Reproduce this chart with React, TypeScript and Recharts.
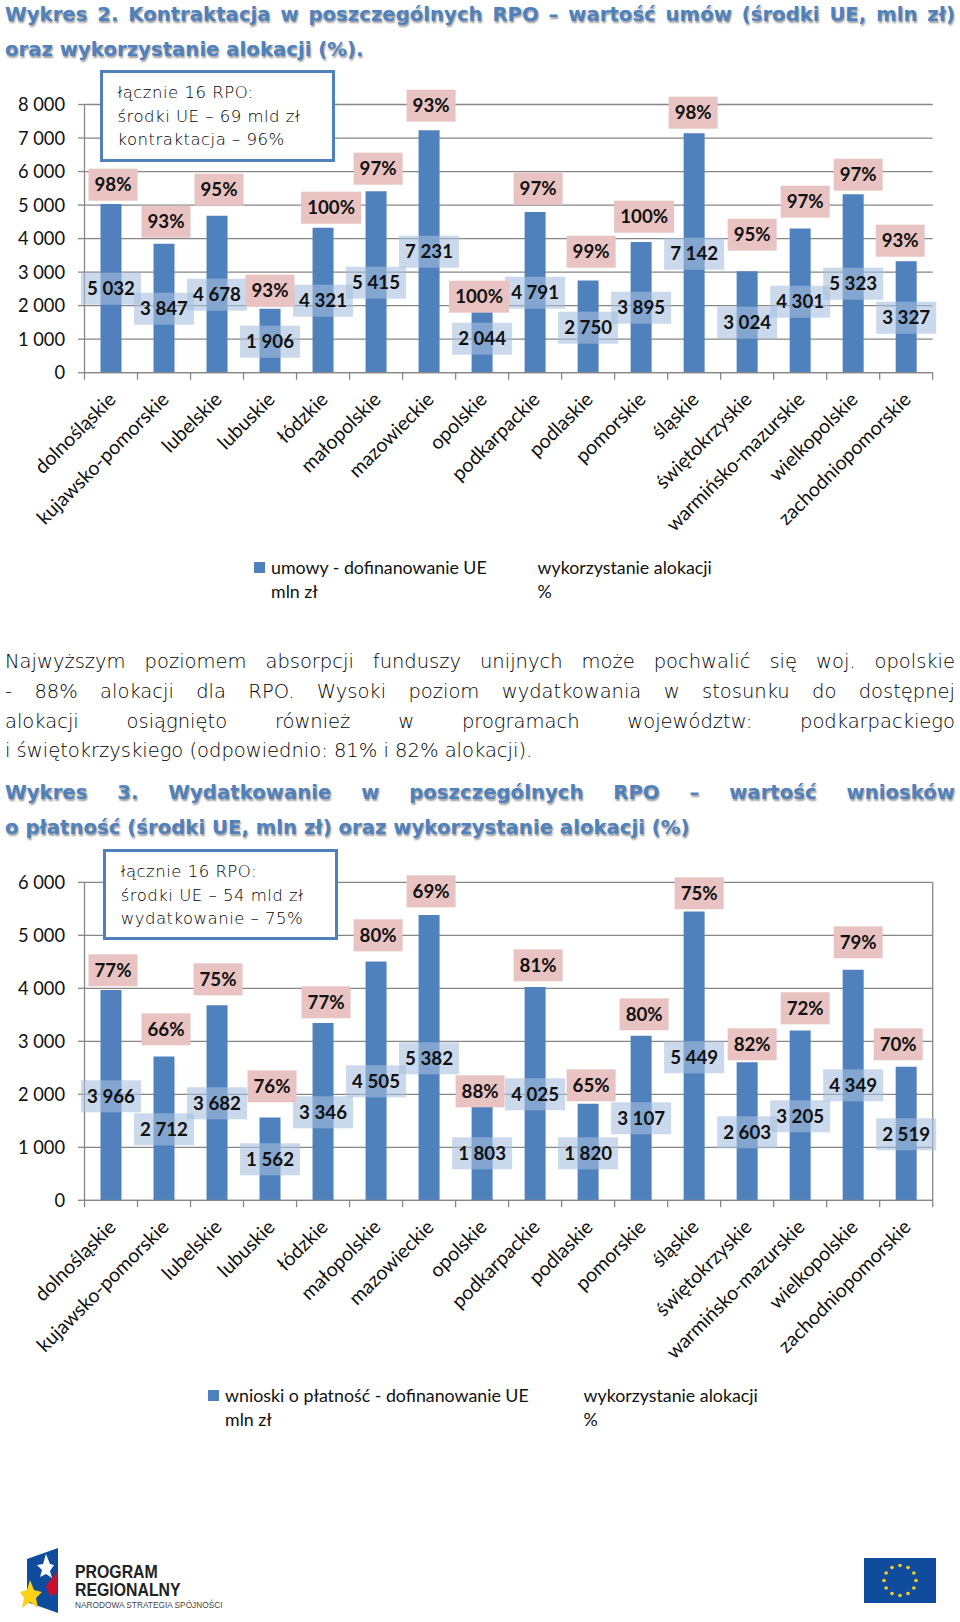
import React from "react";
import {
  BarChart,
  Bar,
  XAxis,
  YAxis,
  CartesianGrid,
  LabelList,
} from "recharts";

const regions = [
  "dolnośląskie",
  "kujawsko-pomorskie",
  "lubelskie",
  "lubuskie",
  "łódzkie",
  "małopolskie",
  "mazowieckie",
  "opolskie",
  "podkarpackie",
  "podlaskie",
  "pomorskie",
  "śląskie",
  "świętokrzyskie",
  "warmińsko-mazurskie",
  "wielkopolskie",
  "zachodniopomorskie",
];

const contractValues = [5032, 3847, 4678, 1906, 4321, 5415, 7231, 2044, 4791, 2750, 3895, 7142, 3024, 4301, 5323, 3327];
const contractPct = [98, 93, 95, 93, 100, 97, 93, 100, 97, 99, 100, 98, 95, 97, 97, 93];
const paymentValues = [3966, 2712, 3682, 1562, 3346, 4505, 5382, 1803, 4025, 1820, 3107, 5449, 2603, 3205, 4349, 2519];
const paymentPct = [77, 66, 75, 76, 77, 80, 69, 88, 81, 65, 80, 75, 82, 72, 79, 70];

const contractTicks = [0, 1000, 2000, 3000, 4000, 5000, 6000, 7000, 8000];
const paymentTicks = [0, 1000, 2000, 3000, 4000, 5000, 6000];

// label placement: height of the box centre above the axis, in px
const contractValueUp = [84, 64, 78, 31, 72, 90, 121, 34, 80, 45, 65, 119, 50, 71, 89, 55];
const contractPctUp = [188, 151, 183, 82, 165, 204, 267, 76, 184, 121, 156, 260, 138, 171, 198, 132];
const contractPctDx = [2, 2, 2, 0, 8, 2, 2, -3, 3, 3, 3, -1, 5, 5, 5, -6];
const paymentValueUp = [104, 71, 97, 41, 88, 119, 142, 47, 106, 47, 82, 143, 68, 84, 115, 66];
const paymentPctUp = [230, 171, 221, 114, 198, 265, 309, 109, 235, 115, 186, 307, 156, 192, 258, 156];
const paymentPctDx = [2, 2, 1, 2, 3, 2, 2, -2, 3, 3, 3, 5, 5, 5, 5, -8];

const BLUE = "#4f81bd";
const AXIS = "#868686";
const CHART_FONT = "Lato, sans-serif";
const BODY_FONT = "'DejaVu Sans', sans-serif";
const STEP = 53;

const spaced = (v: number) => String(v).replace(/\B(?=(\d{3})+$)/g, " ");

const RegionTick = (props: any) => {
  const { x, y, payload, index } = props;
  const last = index === regions.length - 1;
  return (
    <g>
      <line x1={x - STEP / 2} x2={x - STEP / 2} y1={y} y2={y + 7} stroke={AXIS} strokeWidth={1.3} />
      {last && <line x1={x + STEP / 2} x2={x + STEP / 2} y1={y} y2={y + 7} stroke={AXIS} strokeWidth={1.3} />}
      <text
        x={x + 6}
        y={y + 28}
        textAnchor="end"
        transform={`rotate(-45 ${x + 6} ${y + 28})`}
        fontFamily={CHART_FONT}
        fontSize={19.6}
        fill="#111"
      >
        {payload.value}
      </text>
    </g>
  );
};

const boxLabel =
  (up: number[], dx: number[] | null, fill: string, opacity: number, text: (v: number) => string) =>
  (props: any) => {
    const { viewBox, index, value } = props;
    const cx = viewBox.x + viewBox.width / 2 + (dx ? dx[index] : 0);
    const cy = viewBox.y + viewBox.height - up[index];
    const str = text(value);
    const w = str.length > 3 ? 60 : 49;
    return (
      <g>
        <rect x={cx - w / 2} y={cy - 16} width={w} height={32} fill={fill} fillOpacity={opacity} />
        <text
          x={cx}
          y={cy + 6.5}
          textAnchor="middle"
          fontFamily={CHART_FONT}
          fontWeight={700}
          fontSize={18.7}
          fill="#111"
        >
          {str}
        </text>
      </g>
    );
  };

interface RpoChartProps {
  top: number;
  plotTop: number;
  plotBottom: number;
  values: number[];
  pct: number[];
  ticks: number[];
  valueUp: number[];
  pctUp: number[];
  pctDx: number[];
  rightBorder?: boolean;
}

const RpoChart = ({ top, plotTop, plotBottom, values, pct, ticks, valueUp, pctUp, pctDx, rightBorder }: RpoChartProps) => {
  const height = 560;
  const data = regions.map((name, i) => ({ name, value: values[i], pct: pct[i] }));
  return (
    <div style={{ position: "absolute", left: 0, top }}>
      <BarChart
        width={960}
        height={height}
        data={data}
        margin={{ top: plotTop - top, right: 27.3, left: 0, bottom: 0 }}
      >
        <CartesianGrid
          stroke={AXIS}
          strokeWidth={1.3}
          vertical={!!rightBorder}
          verticalCoordinatesGenerator={({ offset }: any) => [offset.left + offset.width]}
        />
        <XAxis
          dataKey="name"
          interval={0}
          height={top + height - plotBottom}
          tickSize={0}
          tickMargin={0}
          tickLine={false}
          axisLine={{ stroke: AXIS, strokeWidth: 1.3 }}
          tick={<RegionTick />}
        />
        <YAxis
          width={84.5}
          domain={[0, ticks[ticks.length - 1]]}
          ticks={ticks}
          interval={0}
          tickFormatter={spaced}
          tickSize={6.5}
          tickMargin={13}
          tickLine={{ stroke: AXIS, strokeWidth: 1.3 }}
          axisLine={{ stroke: AXIS, strokeWidth: 1.3 }}
          tick={{ fontFamily: CHART_FONT, fontSize: 18.3, fill: "#111" }}
        />
        <Bar dataKey="value" fill={BLUE} barSize={21} isAnimationActive={false}>
          <LabelList dataKey="value" content={boxLabel(valueUp, null, "#a7c0de", 0.6, spaced)} />
          <LabelList dataKey="pct" content={boxLabel(pctUp, pctDx, "#e8c3c2", 1, (v) => `${v}%`)} />
        </Bar>
      </BarChart>
    </div>
  );
};

const Line = ({ top, size = 19.5, last, children, style }: any) => (
  <div
    style={{
      position: "absolute",
      left: 5,
      width: 950,
      top: top - 15,
      lineHeight: "30px",
      whiteSpace: last ? "nowrap" : "normal",
      fontFamily: BODY_FONT,
      fontWeight: 200,
      fontSize: size,
      color: "#000",
      textAlign: "justify",
      textAlignLast: last ? "left" : "justify",
      ...style,
    }}
  >
    {children}
  </div>
);

const titleStyle = {
  fontWeight: 700,
  color: BLUE,
  textShadow: "1px 2px 2px #9a9a9a",
  fontSize: 19.7,
};

const Callout = ({ left, top, width, height, lines }: any) => (
  <div
    style={{
      position: "absolute",
      left,
      top,
      width,
      height,
      boxSizing: "border-box",
      border: `3.5px solid ${BLUE}`,
      background: "#fff",
      fontFamily: BODY_FONT,
      fontWeight: 200,
      fontSize: 16.5,
      letterSpacing: 0.5,
      color: "#000",
      padding: "8px 0 0 15px",
      lineHeight: "23.7px",
      whiteSpace: "nowrap",
    }}
  >
    {lines.map((l: string) => (
      <div key={l}>{l}</div>
    ))}
  </div>
);

const LegendText = ({ left, top, lines, marker }: any) => (
  <div
    style={{
      position: "absolute",
      left,
      top,
      fontFamily: CHART_FONT,
      fontSize: 17.8,
      lineHeight: "24px",
      color: "#111",
      whiteSpace: "nowrap",
    }}
  >
    {marker && (
      <span
        style={{ position: "absolute", left: -17, top: 7, width: 11, height: 11, background: BLUE }}
      />
    )}
    {lines.map((l: string) => (
      <div key={l}>{l}</div>
    ))}
  </div>
);

const euStars = Array.from({ length: 12 }, (_, i) => (i * Math.PI) / 6);

const Logos = () => (
  <>
    <svg style={{ position: "absolute", left: 0, top: 1540 }} width={240} height={80}>
      <polygon points="27,19 58,8 58,73 27,62" fill="#0f4c9e" />
      <polygon points="46,14 50,24 54,25 50,31 52,38 46,34 40,37 42,30 37,25 43,24" fill="#fff" />
      <polygon points="52,38 57,32 57,53 50,56 46,46" fill="#c8102e" />
      <polygon points="30,40 34,50 42,52 36,58 38,68 30,62 22,68 24,58 20,52 27,50" fill="#fcd116" />
    </svg>
    <div style={{ position: "absolute", left: 75, top: 1564, fontFamily: "'Liberation Sans', sans-serif", fontWeight: 700, fontSize: 18, lineHeight: "17.5px", color: "#222", transform: "scaleX(0.88)", transformOrigin: "left" }}>
      PROGRAM
      <br />
      REGIONALNY
    </div>
    <div style={{ position: "absolute", left: 75, top: 1599, fontFamily: "'Liberation Sans', sans-serif", fontSize: 8.3, lineHeight: "12px", color: "#444", whiteSpace: "nowrap" }}>
      NARODOWA STRATEGIA SPÓJNOŚCI
    </div>
    <svg style={{ position: "absolute", left: 864, top: 1558 }} width={72} height={45}>
      <rect width={72} height={45} fill="#0f4c9e" />
      {euStars.map((a) => (
        <circle key={a} cx={36 + 16 * Math.cos(a)} cy={22.5 + 15 * Math.sin(a)} r={1.8} fill="#fcd116" />
      ))}
    </svg>
  </>
);

export default function App() {
  return (
    <div style={{ position: "absolute", left: 0, top: 0, width: 960, height: 1622, background: "#fff", overflow: "hidden" }}>
      <Line top={15} style={titleStyle}>Wykres 2. Kontraktacja w poszczególnych RPO – wartość umów (środki UE, mln zł)</Line>
      <Line top={50} last style={titleStyle}>oraz wykorzystanie alokacji (%).</Line>

      <RpoChart
        top={0}
        plotTop={104.5}
        plotBottom={372.7}
        values={contractValues}
        pct={contractPct}
        ticks={contractTicks}
        valueUp={contractValueUp}
        pctUp={contractPctUp}
        pctDx={contractPctDx}
      />
      <Callout left={99.5} top={70} width={235} height={92} lines={["łącznie 16 RPO:", "środki UE – 69 mld zł", "kontraktacja – 96%"]} />
      <LegendText left={271} top={555} marker lines={["umowy - dofinanowanie UE", "mln zł"]} />
      <LegendText left={537.5} top={555} lines={["wykorzystanie alokacji", "%"]} />

      <Line top={661.7}>Najwyższym poziomem absorpcji funduszy unijnych może pochwalić się woj. opolskie</Line>
      <Line top={691.7}>- 88% alokacji dla RPO. Wysoki poziom wydatkowania w stosunku do dostępnej</Line>
      <Line top={721.7}>alokacji osiągnięto również w programach województw: podkarpackiego</Line>
      <Line top={750.7} last>i świętokrzyskiego (odpowiednio: 81% i 82% alokacji).</Line>

      <Line top={793} style={titleStyle}>Wykres 3. Wydatkowanie w poszczególnych RPO – wartość wniosków</Line>
      <Line top={828} last style={titleStyle}>o płatność (środki UE, mln zł) oraz wykorzystanie alokacji (%)</Line>

      <RpoChart
        top={840}
        plotTop={882.3}
        plotBottom={1200.3}
        values={paymentValues}
        pct={paymentPct}
        ticks={paymentTicks}
        valueUp={paymentValueUp}
        pctUp={paymentPctUp}
        pctDx={paymentPctDx}
        rightBorder
      />
      <Callout left={102.7} top={849} width={235} height={91} lines={["łącznie 16 RPO:", "środki UE – 54 mld zł", "wydatkowanie – 75%"]} />
      <LegendText left={225} top={1383} marker lines={["wnioski o płatność - dofinanowanie UE", "mln zł"]} />
      <LegendText left={583.5} top={1383} lines={["wykorzystanie alokacji", "%"]} />

      <Logos />
    </div>
  );
}
